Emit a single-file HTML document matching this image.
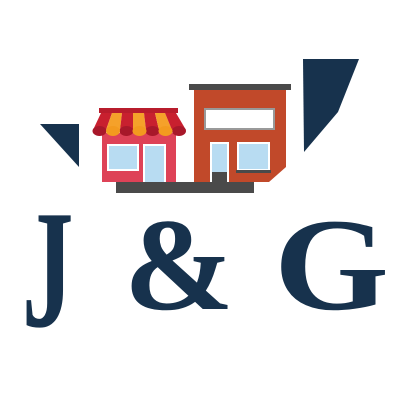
<!DOCTYPE html>
<html><head><style>
body{margin:0;background:#fff;width:400px;height:400px;overflow:hidden}
svg{display:block}
</style></head><body>
<svg width="400" height="400" viewBox="0 0 400 400">
<polygon points="40,124 79,124 79,167" fill="#17324d"/>
<polygon points="303,59 359,59 338,112 304,152" fill="#17324d"/>
<rect x="116" y="182" width="138" height="11" fill="#4a4a4a"/>
<g>
<rect x="189" y="84" width="102" height="6" fill="#4a4a4a"/>
<polygon points="194,90 286,90 286,167 269,182 194,182" fill="#c1492a"/>
<rect x="204" y="108" width="71" height="22" fill="#999"/>
<rect x="206" y="110" width="67" height="18" fill="#fff"/>
<rect x="210" y="142" width="19" height="40" fill="#fff"/>
<rect x="212" y="144" width="15" height="28" fill="#b8dcf2"/>
<rect x="212" y="172" width="15" height="10" fill="#4a4a4a"/>
<rect x="237" y="142" width="33" height="28" fill="#fff"/>
<rect x="239" y="144" width="29" height="25" fill="#b8dcf2"/>
<rect x="236" y="170" width="35" height="3" fill="#4a4a4a"/>
</g>
<g>
<rect x="102" y="133" width="74" height="49" fill="#de4257"/>
<rect x="107" y="144" width="32" height="27" fill="#fff"/>
<rect x="109" y="146" width="28" height="23" fill="#b8dcf2"/>
<rect x="143" y="144" width="23" height="38" fill="#fff"/>
<rect x="145" y="146" width="19" height="36" fill="#b8dcf2"/>
<rect x="99" y="108" width="79" height="5" fill="#b81c2c"/>
<g>
<polygon points="101,113 112,113 106,130 93,130" fill="#c8202f"/>
<polygon points="112,113 122,113 120,130 106,130" fill="#f5a12a"/>
<polygon points="122,113 133,113 133,130 120,130" fill="#c8202f"/>
<polygon points="133,113 144,113 146,130 133,130" fill="#f5a12a"/>
<polygon points="144,113 155,113 159,130 146,130" fill="#c8202f"/>
<polygon points="155,113 165,113 172,130 159,130" fill="#f5a12a"/>
<polygon points="165,113 176,113 186,130 172,130" fill="#c8202f"/>
</g>
<g fill="#a8182a"><ellipse cx="99.5" cy="131" rx="7" ry="5"/><ellipse cx="126.5" cy="131" rx="7" ry="5"/><ellipse cx="152.5" cy="131" rx="7" ry="5"/><ellipse cx="179" cy="131" rx="7" ry="5"/></g>
<g fill="#f39a1f"><ellipse cx="113" cy="131" rx="7" ry="5"/><ellipse cx="139.5" cy="131" rx="7" ry="5"/><ellipse cx="165.5" cy="131" rx="7" ry="5"/></g>
</g>
<g font-family="Liberation Serif, serif" font-weight="bold" fill="#17324d" font-size="132">
<text x="0" y="0" transform="translate(22,326) scale(0.78,1.28)">J</text>
<text x="124" y="309">&amp;</text>
<text x="0" y="0" transform="translate(274,309) scale(1.12,1)">G</text>
</g>
</svg>
</body></html>
